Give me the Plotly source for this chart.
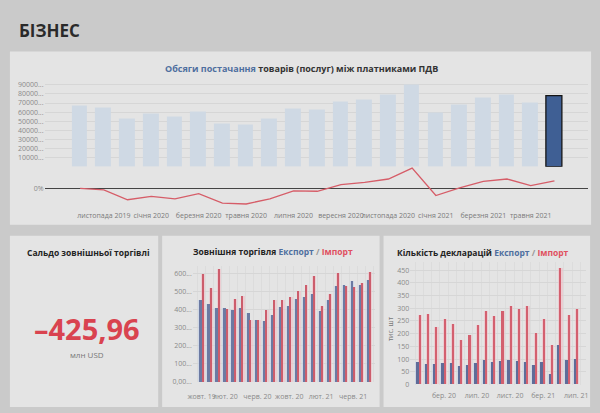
import plotly.graph_objs as go

# ------------------------- ДАНІ -------------------------

# Обсяги постачання, жовт. 2019 - черв. 2021
supply_vals = [66100, 64300, 52700, 57500, 54200, 60000, 47300, 46200, 52700, 63600, 62500,
               70900, 73400, 78100, 90000, 58800, 67200, 75200, 78100, 70100, 77400]
supply_growth = [0, -3, -24, -17, -22, -11, -31, -33, -22, -5, -6,
                 8, 13, 20, 43, -15, 1, 15, 20, 6, 16]
supply_ticks = ['листопада 2019', 'січня 2020', 'березня 2020', 'травня 2020', 'липня 2020',
                'вересня 2020', 'листопада 2020', 'січня 2021', 'березня 2021', 'травня 2021']

# Зовнішня торгівля, млн USD
trade_export = [455, 432, 410, 410, 395, 410, 380, 340, 338, 372, 415,
                418, 458, 470, 485, 390, 455, 530, 535, 555, 535, 565]
trade_import = [595, 520, 625, 405, 460, 475, 340, 340, 400, 455, 450,
                470, 500, 535, 585, 420, 485, 600, 530, 525, 545, 605]
trade_ticks = ['жовт. 19', 'лют. 20', 'черв. 20', 'жовт. 20', 'лют. 21', 'черв. 21']

# Кількість декларацій, тис. шт
decl_export = [87, 78, 78, 82, 82, 73, 75, 83, 93, 85, 91, 93, 91, 85, 75, 85, 41, 152, 93, 97]
decl_import = [272, 277, 224, 256, 237, 174, 192, 233, 288, 269, 288, 308, 294, 307, 201, 255,
               155, 456, 272, 294]
decl_ticks = ['бер. 20', 'лип. 20', 'лист. 20', 'бер. 21', 'лип. 21']

balance = '–425,96'

BLUE = '#4f6f9f'
RED = '#e0505f'
FONT = 'Open Sans'


def px_x(v):
    return v / 600


def px_y(v):
    return 1 - v / 413


fig = go.Figure()

# ------------------------- ВЕРХНІЙ ГРАФІК -------------------------

idx = list(range(len(supply_vals)))
fig.add_trace(go.Bar(
    x=idx, y=supply_vals, width=0.66,
    marker=dict(color=['#cfd9e4'] * (len(idx) - 1) + ['#3f5f94'],
                line=dict(color=['rgba(0,0,0,0)'] * (len(idx) - 1) + ['#151515'], width=1.3)),
    xaxis='x', yaxis='y', hoverinfo='skip'))
fig.add_trace(go.Scatter(
    x=idx, y=supply_growth, mode='lines',
    line=dict(color='#d65d68', width=1.3),
    xaxis='x2', yaxis='y2', hoverinfo='skip'))

# ------------------------- ЗОВНІШНЯ ТОРГІВЛЯ -------------------------

tidx = list(range(len(trade_export)))
fig.add_trace(go.Bar(x=tidx, y=trade_import, width=0.5, offset=-0.12,
                     marker=dict(color='rgba(240,190,198,0.6)', line_width=0),
                     xaxis='x3', yaxis='y3', hoverinfo='skip'))
fig.add_trace(go.Bar(x=tidx, y=trade_export, width=0.5, offset=-0.42,
                     marker=dict(color='rgba(195,208,232,0.6)', line_width=0),
                     xaxis='x3', yaxis='y3', hoverinfo='skip'))
fig.add_trace(go.Bar(x=tidx, y=trade_export, width=0.3, offset=-0.3,
                     marker=dict(color='#6c7aa2', line_width=0),
                     xaxis='x3', yaxis='y3', hoverinfo='skip'))
fig.add_trace(go.Bar(x=tidx, y=trade_import, width=0.18, offset=0.04,
                     marker=dict(color='#cc5d6c', line_width=0),
                     xaxis='x3', yaxis='y3', hoverinfo='skip'))

# ------------------------- ДЕКЛАРАЦІЇ -------------------------

didx = list(range(len(decl_export)))
fig.add_trace(go.Bar(x=didx, y=decl_import, width=0.5, offset=-0.12,
                     marker=dict(color='rgba(240,190,198,0.6)', line_width=0),
                     xaxis='x4', yaxis='y4', hoverinfo='skip'))
fig.add_trace(go.Bar(x=didx, y=decl_export, width=0.5, offset=-0.42,
                     marker=dict(color='rgba(195,208,232,0.6)', line_width=0),
                     xaxis='x4', yaxis='y4', hoverinfo='skip'))
fig.add_trace(go.Bar(x=didx, y=decl_export, width=0.34, offset=-0.3,
                     marker=dict(color='#5f6c98', line_width=0),
                     xaxis='x4', yaxis='y4', hoverinfo='skip'))
fig.add_trace(go.Bar(x=didx, y=decl_import, width=0.2, offset=0.04,
                     marker=dict(color='#d3606f', line_width=0),
                     xaxis='x4', yaxis='y4', hoverinfo='skip'))

# ------------------------- ПАНЕЛІ -------------------------

panels = [(5, 52, 593, 227), (5, 238, 155, 411), (159, 238, 379, 411), (383, 238, 592, 411)]
shapes = [dict(type='rect', xref='paper', yref='paper', layer='below',
               x0=px_x(a), x1=px_x(c), y0=px_y(d), y1=px_y(b),
               fillcolor='#e4e4e4', line_width=0) for a, b, c, d in panels]

tick_font = dict(family=FONT, size=7, color='#8a8a8a')
grid = '#d6d6d6'


def note(x, y, text, anchor='center', **kw):
    return dict(x=px_x(x), y=px_y(y), xref='paper', yref='paper', text=text,
                xanchor=anchor, yanchor='middle', showarrow=False, **kw)


annotations = [
    note(12, 31, '<b>БІЗНЕС</b>', anchor='left',
         font=dict(family=FONT, size=17, color='#2a2a2a')),
    note(300, 69, f"<b><span style='color:{BLUE}'>Обсяги постачання</span> товарів (послуг) між платниками ПДВ</b>",
         font=dict(family=FONT, size=9, color='#333')),
    note(84, 255, '<b>Сальдо зовнішньої торгівлі</b>',
         font=dict(family=FONT, size=8.5, color='#222')),
    note(83, 332, f'<b>{balance}</b>', font=dict(family=FONT, size=29, color='#d9434f')),
    note(83, 358, 'млн USD', font=dict(family=FONT, size=8, color='#777')),
    note(271, 254, f"<b>Зовнішня торгівля <span style='color:{BLUE}'>Експорт</span>"
                   f"<span style='color:#999'> / </span><span style='color:{RED}'>Імпорт</span></b>",
         font=dict(family=FONT, size=8.5, color='#222')),
    note(484, 255, f"<b>Кількість декларацій <span style='color:{BLUE}'>Експорт</span>"
                   f"<span style='color:#999'> / </span><span style='color:{RED}'>Імпорт</span></b>",
         font=dict(family=FONT, size=8.5, color='#222')),
    note(390, 332, 'тис. шт', textangle=-90, font=dict(family=FONT, size=7, color='#777')),
]

fig.update_layout(
    width=600, height=413,
    margin=dict(l=0, r=0, t=0, b=0),
    paper_bgcolor='#cacaca', plot_bgcolor='rgba(0,0,0,0)',
    showlegend=False, barmode='overlay', bargap=0,
    shapes=shapes, annotations=annotations,
    xaxis=dict(domain=[px_x(40), px_x(590)], range=[-1.5, 21.42], anchor='y',
               showticklabels=False, showgrid=False, zeroline=False),
    yaxis=dict(domain=[px_y(168.5), px_y(80)], range=[0, 96100], anchor='x',
               tickvals=[i * 10000 for i in range(1, 10)],
               ticktext=[f'{i * 10000}...' for i in range(1, 10)],
               tickfont=tick_font, gridcolor=grid, gridwidth=0.6, zeroline=False, ticklen=0),
    xaxis2=dict(domain=[px_x(40), px_x(590)], range=[-1.5, 21.42], anchor='y2',
                tickvals=list(range(1, 21, 2)), ticktext=supply_ticks, tickangle=0,
                tickfont=dict(family=FONT, size=7, color='#7a7a7a'), ticklabelstandoff=4,
                showgrid=False, zeroline=False),
    yaxis2=dict(domain=[px_y(208), px_y(168)], range=[-37.2, 46.8], anchor='x2',
                tickvals=[0], ticktext=['0%'], tickfont=tick_font, showgrid=False,
                zeroline=True, zerolinecolor='#444', zerolinewidth=1),
    xaxis3=dict(domain=[px_x(190), px_x(374)], range=[-1.1, 21.7], anchor='y3',
                tickvals=[0, 3, 7, 11, 15, 19], ticktext=trade_ticks, tickangle=0,
                tickfont=tick_font, ticklabelstandoff=9, showgrid=False, zeroline=False,
                minor=dict(tickvals=[i + 0.5 for i in range(-1, 22)], showgrid=True,
                           gridcolor='#dcdcdc', gridwidth=0.5)),
    yaxis3=dict(domain=[px_y(385.7), px_y(268.4)], range=[0, 640], anchor='x3',
                tickvals=list(range(0, 700, 100)),
                ticktext=['0,00...'] + [f'{v}...' for v in range(100, 700, 100)],
                tickfont=tick_font, gridcolor=grid, gridwidth=0.5, zeroline=False),
    xaxis4=dict(domain=[px_x(410), px_x(588)], range=[-1.08, 20.2], anchor='y4',
                tickvals=[3, 7, 11, 15, 19], ticktext=decl_ticks, tickangle=0,
                tickfont=tick_font, ticklabelstandoff=5, showgrid=False, zeroline=False,
                minor=dict(tickvals=[i + 0.5 for i in range(-1, 21)], showgrid=True,
                           gridcolor='#dcdcdc', gridwidth=0.5)),
    yaxis4=dict(domain=[px_y(388.3), px_y(265)], range=[0, 480], anchor='x4',
                tickvals=list(range(0, 500, 50)), tickfont=tick_font,
                gridcolor=grid, gridwidth=0.5, zeroline=False),
)

# page without default body margin, so the figure fills the window
fig.write_html('out.html', config={'displayModeBar': False},
               post_script="document.body.style.margin='0';"
                           "document.body.style.overflow='hidden';")
